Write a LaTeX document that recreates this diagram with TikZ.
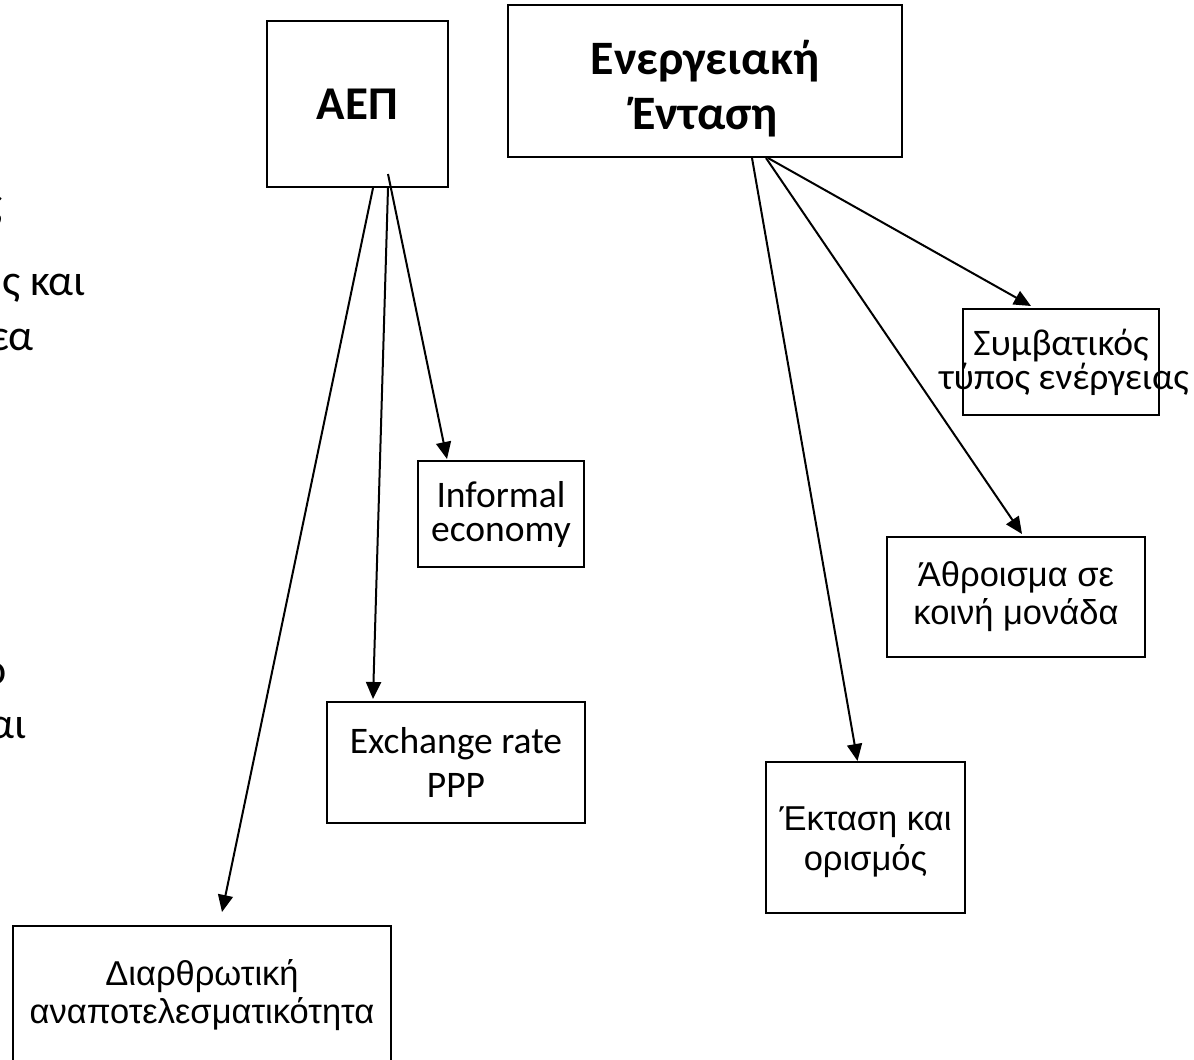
\documentclass[tikz,border=0pt]{standalone}
\usepackage{fontspec}
\newfontfamily\calfont{Carlito}
\newfontfamily\arfont{Liberation Sans}
\usepackage{tikz}
\usetikzlibrary{arrows.meta}
\tikzset{>=latex}
\tikzstyle{box} = [draw, line width=2pt, inner sep=0, align=center]
\tikzstyle{cal} = [font=\calfont\fontsize{37.5}{34}\selectfont]
\tikzstyle{ari} = [font=\arfont\fontsize{34.5}{38}\selectfont]
\tikzstyle{frag} = [font=\calfont\fontsize{44}{50}\selectfont, inner sep=0, anchor=base east]
\tikzstyle{arr} = [-{Triangle[length=17pt,width=15pt]}, line width=2pt]

\begin{document}
\begin{tikzpicture}[x=1pt, y=-1pt]
\useasboundingbox (0,0) rectangle (1194,1060);
\clip (0,0) rectangle (1194,1060);
% cut-off text on the left
\node [frag] (f1) at (3,217) {ς};
\node [frag] (f2) at (86,295) {ς και};
\node [frag] (f3) at (34,350) {εα};
\node [frag] (f4) at (7,684) {ο};
\node [frag] (f5) at (27,738) {αι};
% boxes
\node [box, minimum width=181, minimum height=166, font=\calfont\bfseries\fontsize{47}{50}\selectfont] (aep) at (357.5,104) {ΑΕΠ};
\node [box, minimum width=394, minimum height=152,
  label={[yshift=-8pt, align=center, font=\calfont\bfseries\fontsize{48}{55}\selectfont]center:Ενεργειακή\\Ένταση}] (ener) at (705,81) {};
\node [box, cal, minimum width=166, minimum height=106] (inf) at (501,514) {Informal\\economy};
\node [box, minimum width=258, minimum height=121, font=\calfont\fontsize{37.5}{44}\selectfont] (exch) at (456,762.5) {Exchange rate\\PPP};
\node [box, ari, minimum width=378, minimum height=138] (diar) at (202,995) {Διαρθρωτική\\αναποτελεσματικότητα};
\node [box, cal, minimum width=196, minimum height=106] (conv) at (1061,362) {\makebox[0pt]{Συμβατικός}\\\makebox[0pt]{\hspace{6pt}τύπος ενέργειας}};
\node [box, minimum width=258, minimum height=120, font=\arfont\fontsize{34.5}{38}\selectfont] (sum) at (1016,597) {Άθροισμα σε\\κοινή μονάδα};
\node [box, minimum width=199, minimum height=151,
  label={[yshift=-5pt, align=center, font=\arfont\fontsize{34.5}{40}\selectfont]center:Έκταση και\\ορισμός}] (ext) at (865.5,837.5) {};
% arrows
\draw [arr] ([xshift=15.5pt]aep.south) -- ([xshift=20pt, yshift=13pt]diar.north);
\draw [arr] ([xshift=30.5pt]aep.south) -- ([xshift=-83pt, yshift=2pt]exch.north);
\draw [arr] ([xshift=30.5pt, yshift=14pt]aep.south) -- ([xshift=-54pt, yshift=1pt]inf.north);
\draw [arr] ([xshift=47pt]ener.south) -- ([xshift=-8pt]ext.north);
\draw [arr] ([xshift=61pt]ener.south) -- ([xshift=6pt, yshift=2pt]sum.north);
\draw [arr] ([xshift=63pt]ener.south) -- ([xshift=-30pt, yshift=2pt]conv.north);
\end{tikzpicture}
\end{document}
